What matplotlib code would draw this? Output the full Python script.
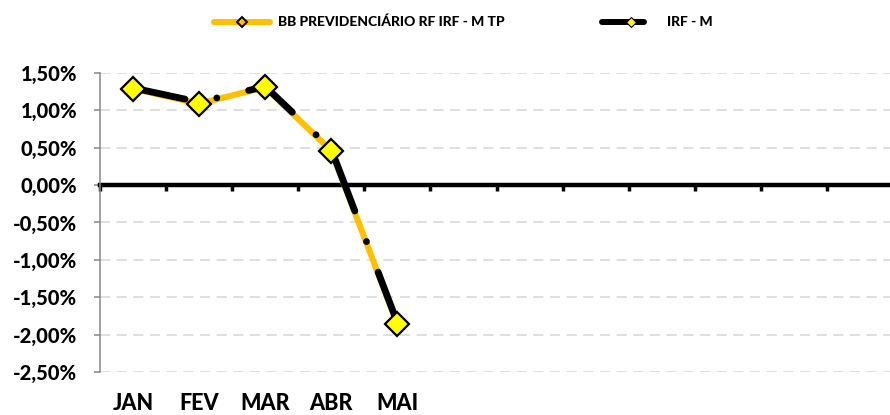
import matplotlib
matplotlib.use("Agg")
import matplotlib.pyplot as plt
from matplotlib.lines import Line2D
from matplotlib.ticker import FuncFormatter, FixedLocator
import numpy as np

plt.rcParams['font.family'] = ['Lato', 'DejaVu Sans']
FW = 'black'

# monthly returns (%), Jan..May; remaining months of the year are empty
months = ['JAN', 'FEV', 'MAR', 'ABR', 'MAI']
n_slots = 12
fund = [1.29, 1.09, 1.31, 0.46, -1.86]       # BB PREVIDENCIÁRIO RF IRF - M TP
bench = [1.30, 1.11, 1.32, 0.48, -1.84]      # IRF - M
fund_label = 'BB PREVIDENCIÁRIO RF IRF - M TP'
bench_label = 'IRF - M'
y_ticks = [1.5, 1.0, 0.5, 0.0, -0.5, -1.0, -1.5, -2.0, -2.5]

ORANGE = '#FFC000'
YELLOW = '#FFFF00'
W, H = 890, 415

fig = plt.figure(figsize=(W / 100, H / 100), dpi=100)
ax = fig.add_axes([100 / W, 1 - 372 / H, 793 / W, 299 / H])

x = np.arange(len(months)) + 0.5

# fund: thick gold line
ax.plot(x, fund, color=ORANGE, lw=4.4, solid_capstyle='round', zorder=3)
# benchmark: black dash-dot on top
ax.plot(x, bench, color='black', lw=4.9, linestyle=(0.2, (8.0, 4.8, 0.01, 4.8)),
        dash_capstyle='round', zorder=4)
# diamond markers above both
ax.plot(x, fund, linestyle='none', marker='D', ms=12, mfc=YELLOW, mec='black',
        mew=1.6, zorder=5)

ax.set_xlim(0, n_slots)
ax.set_ylim(-2.5, 1.5)
ax.yaxis.set_major_locator(FixedLocator(y_ticks))
ax.yaxis.set_major_formatter(FuncFormatter(lambda v, p: f'{v:.2f}%'.replace('.', ',')))
ax.tick_params(axis='y', direction='out', length=4, width=1.1, color='#868686',
               pad=12.5, labelsize=14.5)
for t in ax.get_yticklabels():
    t.set_fontweight(FW)

# gridlines (skip zero, it is the category axis)
for v in y_ticks:
    if v != 0:
        ax.axhline(v, color='#D9D9D9', lw=1.2, ls=(0, (6, 4)), zorder=1)

ax.spines['top'].set_visible(False)
ax.spines['right'].set_visible(False)
ax.spines['left'].set_color('#868686')
ax.spines['left'].set_linewidth(1.1)
ax.spines['bottom'].set_position(('data', 0))
ax.spines['bottom'].set_linewidth(3.2)
ax.spines['bottom'].set_zorder(2)
ax.set_xticks(np.arange(0, n_slots + 1))
ax.tick_params(axis='x', direction='out', length=4, width=2.5, color='black',
               labelbottom=False)

for xi, m in zip(x, months):
    ax.text(xi, -0.105, m, transform=ax.get_xaxis_transform(), ha='center',
            va='center', fontsize=15.5, fontweight=FW)

# legend drawn in figure pixels
def fx(px):
    return px / W

def fy(py):
    return 1 - py / H

fig.add_artist(Line2D([fx(214), fx(270)], [fy(22), fy(22)], color=ORANGE, lw=4.3,
                      solid_capstyle='round', transform=fig.transFigure))
fig.add_artist(Line2D([fx(242)], [fy(22)], marker='D', ms=5.5, mfc=ORANGE, mec='black',
                      mew=1.4, transform=fig.transFigure))
fig.text(fx(278), fy(22), fund_label, ha='left', va='center', fontsize=10,
         fontweight=FW)

fig.add_artist(Line2D([fx(602), fx(644)], [fy(22), fy(22)], color='black', lw=4.3,
                      solid_capstyle='round', transform=fig.transFigure))
fig.add_artist(Line2D([fx(631)], [fy(22)], marker='D', ms=5.5, mfc=YELLOW, mec='black',
                      mew=0.8, transform=fig.transFigure))
fig.text(fx(667), fy(22), bench_label, ha='left', va='center', fontsize=10,
         fontweight=FW)

fig.savefig('out.png', dpi=100)
